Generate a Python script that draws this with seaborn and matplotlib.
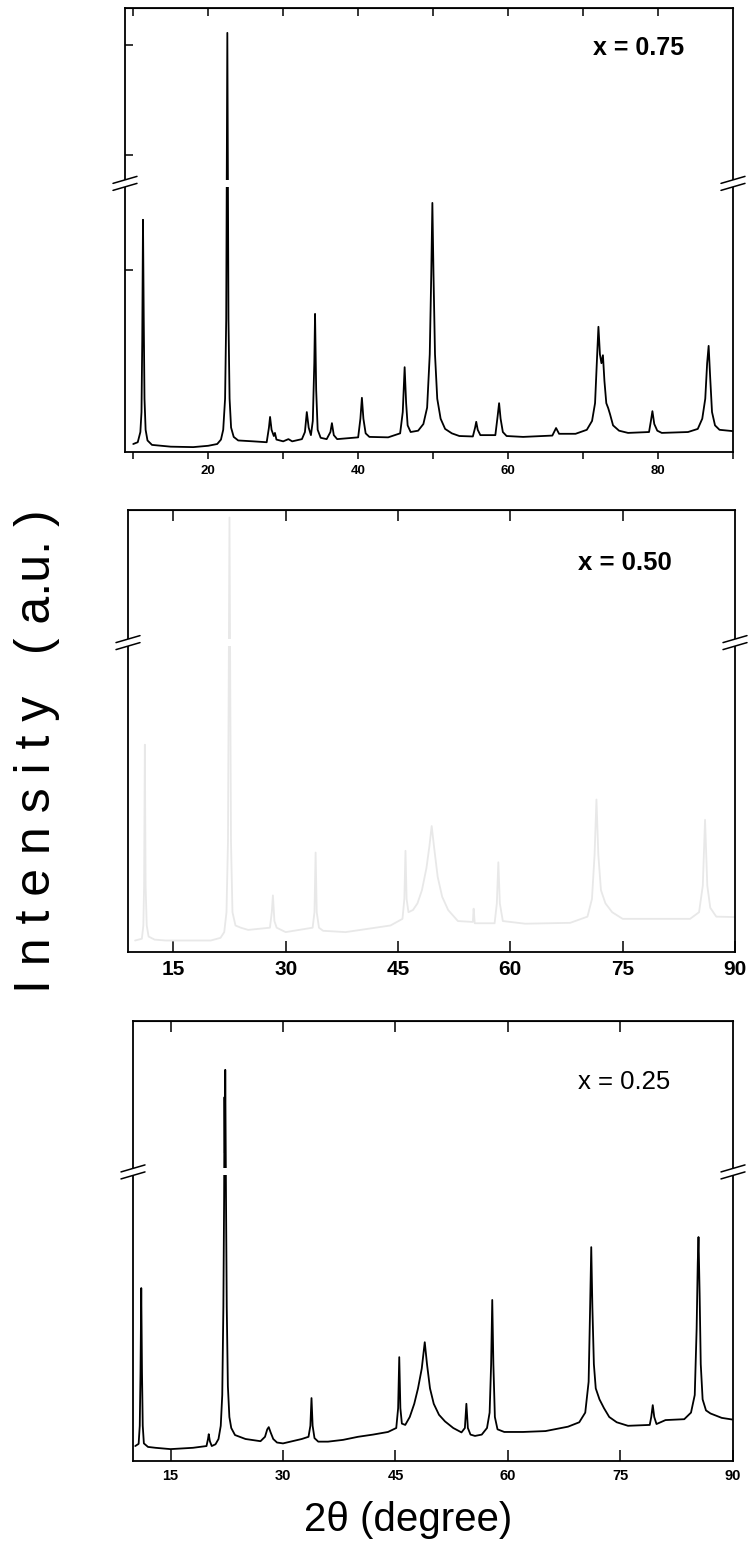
import matplotlib
matplotlib.use("Agg")
import matplotlib.pyplot as plt
import seaborn as sns
import pandas as pd

# ---------------- data (2theta in degree, intensity in % of panel height) ----------------
tt_075 = [10.0, 10.6, 10.95, 11.1, 11.2, 11.3, 11.4, 11.5, 11.65, 11.9, 12.5, 15, 18, 20, 21.2, 21.7,
          22.0, 22.25, 22.4, 22.55, 22.7, 22.85, 23.05, 23.4, 24, 26, 27.8, 28.1, 28.25, 28.45, 28.75,
          28.9, 29.1, 30, 30.7, 31.2, 32.5, 32.9, 33.15, 33.4, 33.7, 33.95, 34.15, 34.25, 34.4, 34.6,
          35.0, 35.8, 36.3, 36.5, 36.75, 37.2, 40.0, 40.3, 40.5, 40.7, 41.0, 41.5, 44, 45.6, 45.95,
          46.2, 46.4, 46.6, 47.0, 48.0, 48.7, 49.2, 49.55, 49.75, 49.9, 50.05, 50.25, 50.55, 51.0,
          51.6, 52.5, 53.5, 55.3, 55.6, 55.75, 55.95, 56.3, 58.3, 58.6, 58.8, 59.0, 59.3, 59.8, 62,
          65.9, 66.4, 66.8, 69, 70.5, 71.2, 71.6, 71.85, 72.05, 72.25, 72.45, 72.65, 72.85, 73.1,
          73.35, 73.6, 74.0, 74.8, 76, 78.8, 79.05, 79.25, 79.5, 79.9, 80.5, 84, 85.3, 85.9, 86.3,
          86.55, 86.75, 86.95, 87.2, 87.6, 88.2, 90]
I_075 = [1.8, 2.2, 4.5, 9, 25, 52.3, 30, 12, 5, 2.6, 1.6, 1.2, 1.1, 1.4, 1.8, 2.8,
         5, 12, 30, 94.4, 30, 12, 5.5, 3.4, 2.6, 2.4, 2.2, 5.5, 7.9, 5.0, 3.6,
         4.3, 2.8, 2.4, 2.9, 2.4, 2.9, 4.5, 9.0, 5.5, 3.8, 7, 20, 31.1, 14, 5,
         3.2, 2.9, 4.5, 6.5, 3.8, 2.9, 3.3, 7.5, 12.2, 7.5, 4.2, 3.4, 3.3, 4.2, 9,
         19.1, 11, 6, 4.5, 4.8, 6.3, 10, 22, 40, 56.1, 40, 22, 12, 7.5,
         5.2, 4.2, 3.6, 3.5, 5.5, 6.8, 5.0, 3.8, 3.8, 8, 11.0, 7.5, 4.5, 3.6, 3.4,
         3.7, 5.4, 4.1, 4.1, 5, 7, 11, 20.7, 28.2, 22, 20.0, 21.8, 16, 11,
         9.9, 8.5, 6, 4.8, 4.3, 4.5, 7, 9.2, 6.3, 4.8, 4.3, 4.5, 5.2, 7.5, 12,
         20, 23.9, 17, 9, 6, 5.0, 4.7]

tt_050 = [9.9, 10.8, 11.0, 11.1, 11.2, 11.3, 11.45, 11.7, 12.5, 14, 20, 21.3, 21.8, 22.1, 22.3, 22.5,
          22.7, 22.9, 23.3, 24, 25, 27.9, 28.15, 28.3, 28.5, 28.8, 30, 33.6, 33.85, 34.0, 34.15, 34.45,
          35, 38, 44, 45.6, 45.85, 46.0, 46.15, 46.4, 47.0, 47.6, 48.2, 48.8, 49.2, 49.5, 49.8, 50.3,
          50.9, 51.7, 53, 55.0, 55.1, 55.25, 57.9, 58.2, 58.4, 58.6, 59.0, 62, 68, 70.3, 70.9, 71.25,
          71.5, 71.75, 72.1, 72.7, 73.6, 75, 84, 85.2, 85.7, 86.0, 86.3, 86.7, 87.5, 90]
I_050 = [2.6, 3.0, 6, 15, 46.9, 15, 6, 3.5, 2.8, 2.6, 2.6, 3.2, 4.5, 9, 25, 98.3,
         25, 9, 6, 5.5, 5, 5.5, 9, 12.8, 7, 5.5, 4.5, 5.5, 9, 22.5, 9, 5.5,
         4.8, 4.5, 6.0, 7.5, 12, 22.9, 12, 9, 9.5, 11, 14, 19, 24, 28.5, 24, 17,
         12.5, 9.5, 7, 6.8, 9.8, 6.5, 6.5, 11, 20.3, 11, 7, 6.4, 6.6, 8, 12, 22,
         34.5, 22, 14, 11, 9, 7.5, 7.5, 9, 15, 29.9, 15, 10, 8, 7.9]

tt_025 = [10.3, 10.75, 10.9, 11.0, 11.1, 11.2, 11.3, 11.45, 12, 13, 15, 18, 19.8, 20.0, 20.1, 20.25,
          20.5, 21.0, 21.4, 21.7, 21.9, 22.05, 22.15, 22.2, 22.25, 22.3, 22.4, 22.5, 22.65, 22.85, 23.1,
          23.6, 25, 27.0, 27.6, 27.9, 28.1, 28.35, 28.7, 29.2, 30, 32.5, 33.4, 33.65, 33.8, 33.95,
          34.2, 34.7, 36, 38, 40, 42, 44, 45.1, 45.35, 45.5, 45.65, 45.85, 46.3, 46.9, 47.5, 48.0,
          48.5, 48.9, 49.2, 49.6, 50.1, 50.8, 51.6, 52.7, 53.8, 54.25, 54.45, 54.65, 55.0, 55.6, 56.5,
          57.2, 57.55, 57.75, 57.9, 58.05, 58.25, 58.6, 59.5, 62, 65, 68, 69.5, 70.3, 70.75, 70.95,
          71.1, 71.25, 71.45, 71.7, 72.2, 72.8, 73.5, 74.5, 76, 78.9, 79.1, 79.3, 79.5, 79.8, 81,
          83.5, 84.4, 84.9, 85.15, 85.3, 85.4, 85.55, 85.7, 85.95, 86.4, 87, 88.5, 90]
I_025 = [3.4, 3.9, 8, 20, 39.3, 20, 8, 4, 3.2, 3.0, 2.7, 3.0, 3.4, 5, 6.1, 4.5,
         3.4, 3.8, 5, 8, 15, 35, 60, 82.7, 70, 88.9, 60, 35, 17, 10, 7.5,
         5.9, 5.0, 4.5, 5.5, 7.2, 7.7, 6.5, 5.0, 4.2, 4.0, 5.0, 5.5, 8, 14.3, 8,
         5.2, 4.4, 4.4, 4.8, 5.5, 6, 6.6, 7.5, 12, 23.6, 12, 8.5, 8.2, 10, 13, 16.5,
         21, 27.0, 22, 16.5, 13, 10.5, 9, 7.5, 6.5, 7.5, 13.0, 7.5, 6.0, 5.7, 6,
         7.5, 11, 22, 36.6, 22, 10, 7.2, 6.6, 6.6, 6.8, 7.8, 8.8, 11, 18, 35,
         48.6, 35, 22, 16.5, 14, 12, 10, 8.8, 8.0, 8.2, 10, 12.7, 10, 8.4, 9.3,
         9.5, 11, 15, 30, 45, 50.9, 38, 22, 14, 11.5, 10.8, 9.8, 9.4]

labels = ["x = 0.75", "x = 0.50", "x = 0.25"]
ticks_p1 = [10, 20, 30, 40, 50, 60, 70, 80, 90]
ticklabels_p1 = ["", "20", "", "40", "", "60", "", "80", ""]
ticks_p23 = [15, 30, 45, 60, 75, 90]
ticklabels_p23 = ["15", "30", "45", "60", "75", "90"]

# ---------------- figure ----------------
sns.set_style("white")
plt.rcParams["font.family"] = ["Liberation Sans", "DejaVu Sans"]
for k in ("text.color", "axes.labelcolor", "xtick.color", "ytick.color", "axes.edgecolor"):
    plt.rcParams[k] = "black"

W, H = 751, 1548
fig = plt.figure(figsize=(W / 100, H / 100), dpi=100)


def ax_rect(l, r, t, b):
    return [l / W, 1 - b / H, (r - l) / W, (b - t) / H]


ax1 = fig.add_axes(ax_rect(125, 733, 8, 452))
ax2 = fig.add_axes(ax_rect(128, 735, 510, 952))
ax3 = fig.add_axes(ax_rect(133, 733, 1021, 1461))

sns.lineplot(data=pd.DataFrame({"tt": tt_075, "I": I_075}), x="tt", y="I", ax=ax1,
             color="black", lw=1.3, estimator=None, sort=False)
sns.lineplot(data=pd.DataFrame({"tt": tt_050, "I": I_050}), x="tt", y="I", ax=ax2,
             color="#e8e8e8", lw=1.3, estimator=None, sort=False)
sns.lineplot(data=pd.DataFrame({"tt": tt_025, "I": I_025}), x="tt", y="I", ax=ax3,
             color="black", lw=1.3, estimator=None, sort=False)

breaks = [0.605, 0.70, 0.657]
xlims = [(8.9, 90), (8.95, 90), (10.0, 90)]

for ax, brk, xl in zip([ax1, ax2, ax3], breaks, xlims):
    ax.set_xlim(*xl)
    ax.set_ylim(0, 100)
    ax.set_xlabel("")
    ax.set_ylabel("")
    for s in ax.spines.values():
        s.set_color("black")
        s.set_linewidth(1.3)
    # broken-axis marks
    bw = ax.get_window_extent()
    dx = 12 / bw.width
    dy = 3.5 / bw.height
    gap = 3.5 / bw.height
    ax.add_patch(plt.Rectangle((-0.05, brk - gap), 1.1, 2 * gap, transform=ax.transAxes,
                               facecolor="white", edgecolor="none", clip_on=False, zorder=5))
    for xc in (0.0, 1.0):
        for off in (-gap, gap):
            ax.plot([xc - dx, xc + dx], [brk + off - dy, brk + off + dy], transform=ax.transAxes,
                    color="black", lw=1.1, clip_on=False, zorder=6)

# panel 1 ticks
ax1.set_xticks(ticks_p1)
ax1.set_xticklabels(ticklabels_p1)
ax1.tick_params(axis="x", direction="out", length=5, width=1.1, bottom=True, pad=4,
                labelsize=9.5)
ax1.set_yticks([41.0, 66.9, 91.7])
ax1.set_yticklabels([])
ax1.tick_params(axis="y", direction="in", length=6, width=1.1, left=True)
sec1 = ax1.secondary_xaxis("top")
sec1.set_xticks(ticks_p1[:-1])
sec1.tick_params(direction="in", length=6, width=1.1, labeltop=False)

# panel 2 & 3 ticks
for ax, fs in [(ax2, 15), (ax3, 10.5)]:
    ax.set_xticks(ticks_p23)
    ax.set_xticklabels(ticklabels_p23)
    ax.tick_params(axis="x", direction="in", length=8, width=1.1, bottom=True, pad=6,
                   labelsize=fs)
    ax.set_yticks([])
    sec = ax.secondary_xaxis("top")
    sec.set_xticks(ticks_p23[:-1])
    sec.tick_params(direction="in", length=8, width=1.1, labeltop=False)

for ax in (ax1, ax2, ax3):
    for lab in ax.get_xticklabels():
        lab.set_fontweight("bold")

# sample labels
ax1.text(0.845, 0.91, labels[0], transform=ax1.transAxes, ha="center", va="center",
         fontsize=18, fontweight="bold")
ax2.text(0.819, 0.88, labels[1], transform=ax2.transAxes, ha="center", va="center",
         fontsize=18.5, fontweight="bold")
ax3.text(0.818, 0.861, labels[2], transform=ax3.transAxes, ha="center", va="center",
         fontsize=18.5)

# axis titles
fig.text(37 / W, 1 - 751 / H, "I n t e n s i t y   ( a.u. )", rotation=90, ha="center",
         va="center", fontsize=36)
fig.text(408 / W, 1 - 1520 / H, "2θ (degree)", ha="center", va="center", fontsize=29)

fig.savefig("out.png", dpi=100)
